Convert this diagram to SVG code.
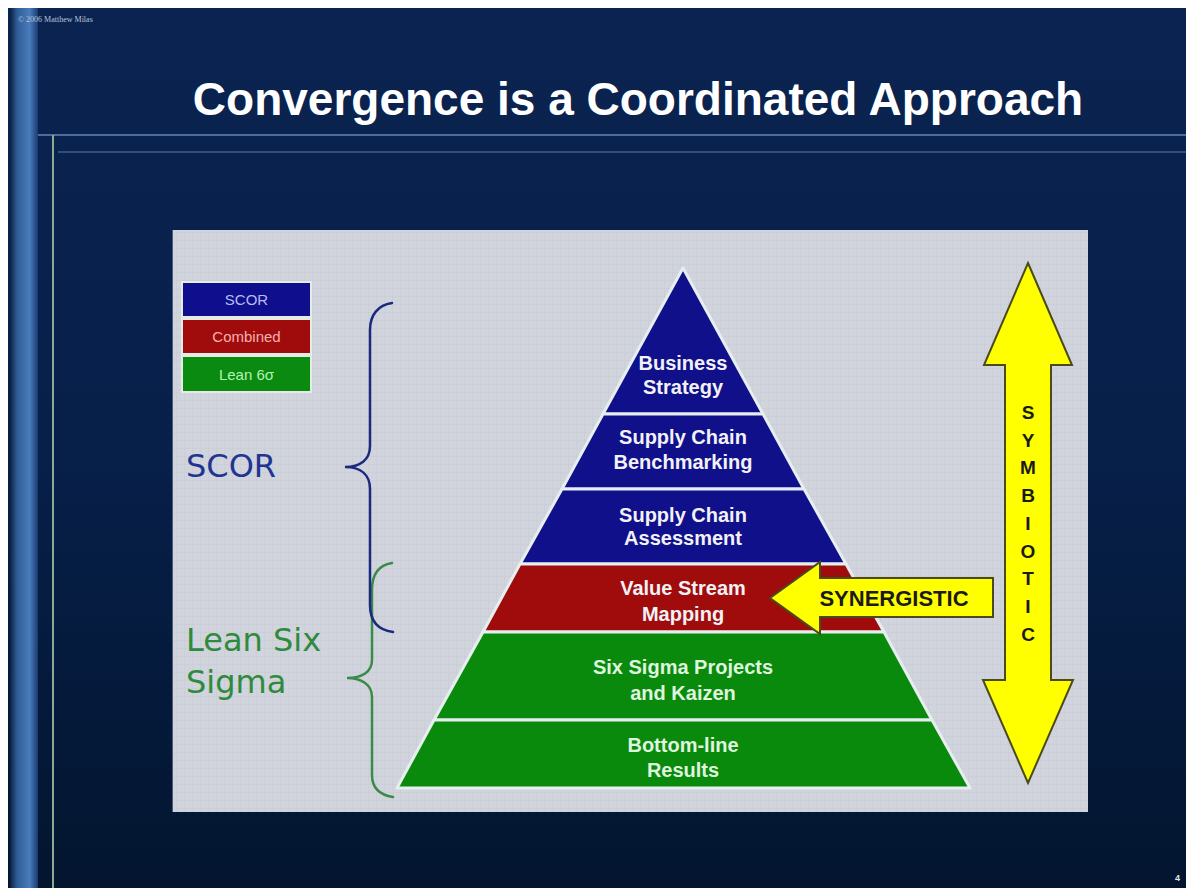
<svg xmlns="http://www.w3.org/2000/svg" width="1186" height="888" viewBox="0 0 1186 888">
<defs>
<linearGradient id="bg" x1="0" y1="0" x2="0" y2="1">
<stop offset="0" stop-color="#0b2350"/>
<stop offset="0.5" stop-color="#07204a"/>
<stop offset="1" stop-color="#03152f"/>
</linearGradient>
<linearGradient id="stripe" x1="0" y1="0" x2="1" y2="0">
<stop offset="0" stop-color="#0c2040"/>
<stop offset="0.25" stop-color="#2f5c96"/>
<stop offset="0.7" stop-color="#4a7cbc"/>
<stop offset="1" stop-color="#1a3a70"/>
</linearGradient>
<pattern id="grid" width="8" height="8" patternUnits="userSpaceOnUse">
<rect width="8" height="8" fill="#d1d4dc"/>
<path d="M0 0H8M0 0V8" stroke="#c6cad3" stroke-width="1"/>
</pattern>
<style>
.lay{stroke:#e6eef0;stroke-width:3;stroke-linejoin:round}
.lt{font-family:"Liberation Sans",Arial,sans-serif;font-weight:bold;font-size:20px;fill:#f2f2f6;text-anchor:middle}
.gt{fill:#dff5df}
.leg{font-family:"Liberation Sans",Arial,sans-serif;font-size:15px;text-anchor:middle}
.big{font-family:"DejaVu Sans",Verdana,sans-serif;font-size:32px}
.yel{fill:#ffff00;stroke:#4a4a1a;stroke-width:2;stroke-linejoin:miter}
.sym{font-family:"Liberation Sans",Arial,sans-serif;font-weight:bold;font-size:19px;fill:#1a1a1a;text-anchor:middle}
.brace{fill:none;stroke-width:2.5;stroke-linecap:round}
</style>
</defs>

<g id="background">
<rect width="1186" height="888" fill="#ffffff"/>
<rect x="8" y="8" width="1178" height="880" fill="url(#bg)"/>
<rect x="10" y="8" width="28" height="880" fill="url(#stripe)"/>
<line x1="38" y1="135" x2="1186" y2="135" stroke="#4d6d9e" stroke-width="2"/>
<line x1="58" y1="152" x2="1186" y2="152" stroke="#3d5d8e" stroke-width="1.5"/>
<line x1="53" y1="135" x2="53" y2="888" stroke="#8ea892" stroke-width="2"/>
<text x="18" y="22" font-family="Liberation Serif,serif" font-size="8" fill="#b8c6dc">© 2006 Matthew Milas</text>
<text x="1175" y="881" font-family="Liberation Sans,Arial,sans-serif" font-size="9" font-weight="bold" fill="#e0e8f0">4</text>
</g>

<g id="title">
<text x="638" y="115" font-family="Liberation Sans,Arial,sans-serif" font-weight="bold" font-size="46" fill="#ffffff" text-anchor="middle">Convergence is a Coordinated Approach</text>
</g>

<g id="panel">
<rect x="172" y="230" width="916" height="582" fill="url(#grid)"/>
<line x1="172.5" y1="230" x2="172.5" y2="812" stroke="#4a5a78" stroke-width="1"/>
</g>

<g id="legend">
<rect x="181" y="281" width="131" height="112" fill="#e4ece4"/>
<rect x="183" y="283" width="127" height="33" fill="#0f0f8e"/>
<text class="leg" x="246.500" y="305" fill="#b8bcf4">SCOR</text>
<rect x="183" y="320" width="127" height="33" fill="#a00c0c"/>
<text class="leg" x="246.500" y="342" fill="#f4b0b0">Combined</text>
<rect x="183" y="357" width="127" height="34" fill="#0a8a10"/>
<text class="leg" x="246.500" y="380" fill="#b4f4b0">Lean 6σ</text>
</g>

<g id="label-scor">
<text class="big" x="186" y="477" fill="#1f3592">SCOR</text>
</g>
<g id="label-lean">
<text class="big" x="186" y="651" fill="#2e8a3c">Lean Six</text>
<text class="big" x="186" y="693" fill="#2e8a3c">Sigma</text>
</g>

<g id="connectors">
<path class="brace" stroke="#3a8a4a" d="M392,563 C379,565 372,574 372,590 L372,660 C372,672 362,678 347,678 C362,678 372,685 372,697 L372,775 C372,789 380,795 393,797"/>
<path class="brace" stroke="#1c2a7e" d="M392,303 C378,305 370,315 370,330 L370,446 C370,460 360,467 345,467 C360,467 370,474 370,489 L370,605 C370,622 378,630 393,632"/>
</g>

<g id="pyramid">
<g id="layer-business-strategy">
<polygon class="lay" points="683,268 763,414 603,414" fill="#10108a"/>
<text class="lt" x="683" y="370">Business</text>
<text class="lt" x="683" y="394">Strategy</text>
</g>
<g id="layer-sc-benchmarking">
<polygon class="lay" points="603,414 763,414 804,489 562,489" fill="#10108a"/>
<text class="lt" x="683" y="444">Supply Chain</text>
<text class="lt" x="683" y="469">Benchmarking</text>
</g>
<g id="layer-sc-assessment">
<polygon class="lay" points="562,489 804,489 846,564 520,564" fill="#10108a"/>
<text class="lt" x="683" y="522">Supply Chain</text>
<text class="lt" x="683" y="545">Assessment</text>
</g>
<g id="layer-vsm">
<polygon class="lay" points="520,564 846,564 884,632 483,632" fill="#a00c0c" stroke="#e8d8c8"/>
<text class="lt" x="683" y="595">Value Stream</text>
<text class="lt" x="683" y="621">Mapping</text>
</g>
<g id="layer-six-sigma">
<polygon class="lay" points="483,632 884,632 932,720 434,720" fill="#0a8a0c" stroke="#d6f2d6"/>
<text class="lt gt" x="683" y="674">Six Sigma Projects</text>
<text class="lt gt" x="683" y="700">and Kaizen</text>
</g>
<g id="layer-bottom-line">
<polygon class="lay" points="434,720 932,720 970,788 397,788" fill="#0a8a0c" stroke="#d6f2d6"/>
<text class="lt gt" x="683" y="752">Bottom-line</text>
<text class="lt gt" x="683" y="777">Results</text>
</g>
</g>

<g id="synergistic">
<polygon class="yel" points="770,598 820,562 820,578 993,578 993,617 820,617 820,634"/>
<text x="894" y="606" font-family="Liberation Sans,Arial,sans-serif" font-weight="bold" font-size="22" fill="#1a1a1a" text-anchor="middle">SYNERGISTIC</text>
</g>

<g id="symbiotic">
<polygon class="yel" points="1028,263 1072,365 1051,365 1051,680 1073,680 1028,783 983,680 1005,680 1005,365 984,365"/>
<text class="sym" x="1028" y="419">S</text>
<text class="sym" x="1028" y="447">Y</text>
<text class="sym" x="1028" y="474">M</text>
<text class="sym" x="1028" y="502">B</text>
<text class="sym" x="1028" y="530">I</text>
<text class="sym" x="1028" y="558">O</text>
<text class="sym" x="1028" y="585">T</text>
<text class="sym" x="1028" y="613">I</text>
<text class="sym" x="1028" y="641">C</text>
</g>
</svg>
